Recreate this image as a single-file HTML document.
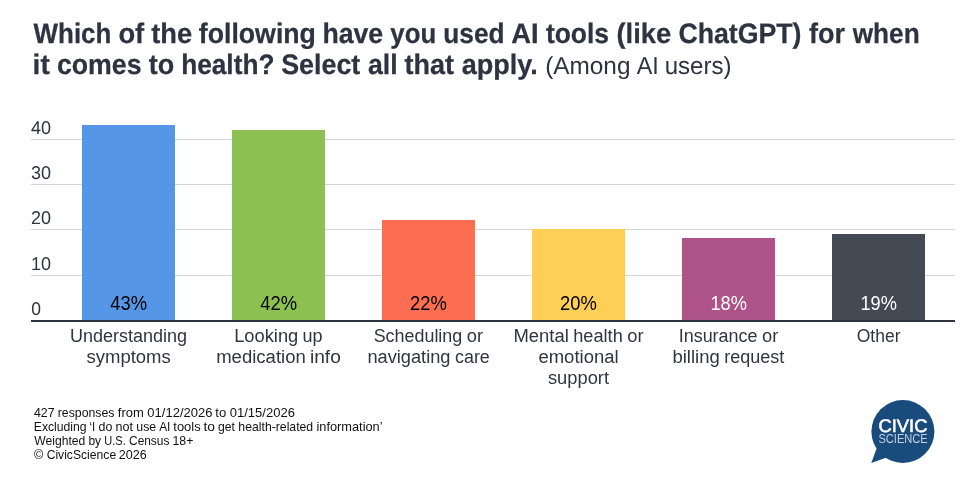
<!DOCTYPE html>
<html lang="en">
<head>
<meta charset="utf-8">
<title>Which of the following have you used AI tools (like ChatGPT) for when it comes to health?</title>
<style>
html,body{margin:0;padding:0;background:#ffffff;}
body{width:966px;height:482px;overflow:hidden;font-family:"Liberation Sans",sans-serif;}
svg{display:block;position:absolute;left:0;top:0;}
svg text{font-family:"Liberation Sans",sans-serif;}
</style>
</head>
<body>
<svg width="966" height="482" viewBox="0 0 966 482" role="img" aria-label="Bar chart: AI tools used for health, among AI users">
<rect x="0" y="0" width="966" height="482" fill="#ffffff"/>
<g fill="#d4d4d7">
<rect x="31" y="139" width="924" height="1"/>
<rect x="31" y="184" width="924" height="1"/>
<rect x="31" y="229" width="924" height="1"/>
<rect x="31" y="275" width="924" height="1"/>
</g>
<rect x="82" y="125" width="93" height="195" fill="#5596e6"/>
<rect x="232" y="130" width="93" height="190" fill="#8cc152"/>
<rect x="382" y="220" width="93" height="100" fill="#fc6e51"/>
<rect x="532" y="229" width="93" height="91" fill="#ffce54"/>
<rect x="682" y="238" width="93" height="82" fill="#ad5389"/>
<rect x="832" y="234" width="93" height="86" fill="#434a54"/>
<rect x="31" y="320" width="924" height="2" fill="#2d3340"/>
<g fill="#194b7d"><circle cx="902.9" cy="431.5" r="31.5"/><path d="M876.6 448.5 L871.3 463 L886.5 457.5 Z"/></g>
<text id="t1" y="42.6" font-size="28.15" fill="#2d3340" font-weight="700" stroke="#2d3340" stroke-width="0.25" text-rendering="geometricPrecision"><tspan x="33.59" textLength="77.81" lengthAdjust="spacingAndGlyphs">Which</tspan> <tspan x="118.38" textLength="25.79" lengthAdjust="spacingAndGlyphs">of</tspan> <tspan x="151.25" textLength="40.93" lengthAdjust="spacingAndGlyphs">the</tspan> <tspan x="198.81" textLength="117.12" lengthAdjust="spacingAndGlyphs">following</tspan> <tspan x="322.45" textLength="60.75" lengthAdjust="spacingAndGlyphs">have</tspan> <tspan x="390.35" textLength="45.88" lengthAdjust="spacingAndGlyphs">you</tspan> <tspan x="443.3" textLength="61.22" lengthAdjust="spacingAndGlyphs">used</tspan> <tspan x="511.18" textLength="27.34" lengthAdjust="spacingAndGlyphs">AI</tspan> <tspan x="545.9" textLength="63.14" lengthAdjust="spacingAndGlyphs">tools</tspan> <tspan x="616.48" textLength="54.76" lengthAdjust="spacingAndGlyphs">(like</tspan> <tspan x="678.38" textLength="123.15" lengthAdjust="spacingAndGlyphs">ChatGPT)</tspan> <tspan x="808.94" textLength="35.99" lengthAdjust="spacingAndGlyphs">for</tspan> <tspan x="852.76" textLength="66.91" lengthAdjust="spacingAndGlyphs">when</tspan></text>
<text id="t2" y="73.6" font-size="28.15" fill="#2d3340" font-weight="700" stroke="#2d3340" stroke-width="0.25" text-rendering="geometricPrecision"><tspan x="32.6" textLength="17.2" lengthAdjust="spacingAndGlyphs">it</tspan> <tspan x="56.93" textLength="84.57" lengthAdjust="spacingAndGlyphs">comes</tspan> <tspan x="148.64" textLength="25.52" lengthAdjust="spacingAndGlyphs">to</tspan> <tspan x="181.14" textLength="93.34" lengthAdjust="spacingAndGlyphs">health?</tspan> <tspan x="281.2" textLength="79.12" lengthAdjust="spacingAndGlyphs">Select</tspan> <tspan x="367.96" textLength="29.65" lengthAdjust="spacingAndGlyphs">all</tspan> <tspan x="404.55" textLength="49.58" lengthAdjust="spacingAndGlyphs">that</tspan> <tspan x="461.74" textLength="76.14" lengthAdjust="spacingAndGlyphs">apply.</tspan></text>
<text id="t3" y="73.6" font-size="24.5" fill="#2d3340" text-rendering="geometricPrecision"><tspan x="545.16" textLength="85.28" lengthAdjust="spacingAndGlyphs">(Among</tspan> <tspan x="636.67" textLength="22.04" lengthAdjust="spacingAndGlyphs">AI</tspan> <tspan x="664.67" textLength="66.77" lengthAdjust="spacingAndGlyphs">users)</tspan></text>
<text id="y40" y="134" font-size="18.5" fill="#2f3542" text-rendering="geometricPrecision"><tspan x="30.91" textLength="20.05" lengthAdjust="spacingAndGlyphs">40</tspan></text>
<text id="y30" y="179" font-size="18.5" fill="#2f3542" text-rendering="geometricPrecision"><tspan x="30.91" textLength="20.05" lengthAdjust="spacingAndGlyphs">30</tspan></text>
<text id="y20" y="224" font-size="18.5" fill="#2f3542" text-rendering="geometricPrecision"><tspan x="30.92" textLength="20.04" lengthAdjust="spacingAndGlyphs">20</tspan></text>
<text id="y10" y="270" font-size="18.5" fill="#2f3542" text-rendering="geometricPrecision"><tspan x="30.94" textLength="20.02" lengthAdjust="spacingAndGlyphs">10</tspan></text>
<text id="y0" y="315" font-size="18.5" fill="#2f3542" text-rendering="geometricPrecision"><tspan x="31.18" textLength="9.72" lengthAdjust="spacingAndGlyphs">0</tspan></text>
<text id="v0" y="309.9" font-size="19.7" fill="#000000"><tspan x="110.33" textLength="36.83" lengthAdjust="spacingAndGlyphs">43%</tspan></text>
<text id="c0_0" y="342.1" font-size="18" fill="#2f3542"><tspan x="69.95" textLength="117.09" lengthAdjust="spacingAndGlyphs">Understanding</tspan></text>
<text id="c0_1" y="362.9" font-size="18" fill="#2f3542"><tspan x="86.48" textLength="84.3" lengthAdjust="spacingAndGlyphs">symptoms</tspan></text>
<text id="v1" y="309.9" font-size="19.7" fill="#000000"><tspan x="260.33" textLength="36.83" lengthAdjust="spacingAndGlyphs">42%</tspan></text>
<text id="c1_0" y="342.1" font-size="18" fill="#2f3542"><tspan x="234.17" textLength="64.11" lengthAdjust="spacingAndGlyphs">Looking</tspan> <tspan x="302.52" textLength="20.03" lengthAdjust="spacingAndGlyphs">up</tspan></text>
<text id="c1_1" y="362.9" font-size="18" fill="#2f3542"><tspan x="216.16" textLength="89.62" lengthAdjust="spacingAndGlyphs">medication</tspan> <tspan x="309.94" textLength="30.91" lengthAdjust="spacingAndGlyphs">info</tspan></text>
<text id="v2" y="309.9" font-size="19.7" fill="#000000"><tspan x="410.11" textLength="36.8" lengthAdjust="spacingAndGlyphs">22%</tspan></text>
<text id="c2_0" y="342.1" font-size="18" fill="#2f3542"><tspan x="373.7" textLength="88.57" lengthAdjust="spacingAndGlyphs">Scheduling</tspan> <tspan x="466.78" textLength="16.28" lengthAdjust="spacingAndGlyphs">or</tspan></text>
<text id="c2_1" y="362.9" font-size="18" fill="#2f3542"><tspan x="367.42" textLength="83.11" lengthAdjust="spacingAndGlyphs">navigating</tspan> <tspan x="455.04" textLength="34.75" lengthAdjust="spacingAndGlyphs">care</tspan></text>
<text id="v3" y="309.9" font-size="19.7" fill="#000000"><tspan x="560.11" textLength="36.8" lengthAdjust="spacingAndGlyphs">20%</tspan></text>
<text id="c3_0" y="342.1" font-size="18" fill="#2f3542"><tspan x="513.4" textLength="55.35" lengthAdjust="spacingAndGlyphs">Mental</tspan> <tspan x="573.22" textLength="49.57" lengthAdjust="spacingAndGlyphs">health</tspan> <tspan x="627.29" textLength="16.28" lengthAdjust="spacingAndGlyphs">or</tspan></text>
<text id="c3_1" y="362.9" font-size="18" fill="#2f3542"><tspan x="538.46" textLength="80.1" lengthAdjust="spacingAndGlyphs">emotional</tspan></text>
<text id="c3_2" y="383.7" font-size="18" fill="#2f3542"><tspan x="547.97" textLength="61.06" lengthAdjust="spacingAndGlyphs">support</tspan></text>
<text id="v4" y="309.9" font-size="19.7" fill="#ffffff"><tspan x="710.4" textLength="36.5" lengthAdjust="spacingAndGlyphs">18%</tspan></text>
<text id="c4_0" y="342.1" font-size="18" fill="#2f3542"><tspan x="678.71" textLength="78.8" lengthAdjust="spacingAndGlyphs">Insurance</tspan> <tspan x="762.02" textLength="16.28" lengthAdjust="spacingAndGlyphs">or</tspan></text>
<text id="c4_1" y="362.9" font-size="18" fill="#2f3542"><tspan x="672.42" textLength="47.35" lengthAdjust="spacingAndGlyphs">billing</tspan> <tspan x="724.25" textLength="60.05" lengthAdjust="spacingAndGlyphs">request</tspan></text>
<text id="v5" y="309.9" font-size="19.7" fill="#ffffff"><tspan x="860.4" textLength="36.5" lengthAdjust="spacingAndGlyphs">19%</tspan></text>
<text id="c5_0" y="342.1" font-size="18" fill="#2f3542"><tspan x="856.76" textLength="43.75" lengthAdjust="spacingAndGlyphs">Other</tspan></text>
<text id="f0" y="417" font-size="12.2" fill="#111111"><tspan x="34" textLength="20.6" lengthAdjust="spacingAndGlyphs">427</tspan> <tspan x="57.73" textLength="56.75" lengthAdjust="spacingAndGlyphs">responses</tspan> <tspan x="117.85" textLength="25.93" lengthAdjust="spacingAndGlyphs">from</tspan> <tspan x="147.35" textLength="65.07" lengthAdjust="spacingAndGlyphs">01/12/2026</tspan> <tspan x="215.25" textLength="10.97" lengthAdjust="spacingAndGlyphs">to</tspan> <tspan x="229.8" textLength="65.07" lengthAdjust="spacingAndGlyphs">01/15/2026</tspan></text>
<text id="f1" y="431" font-size="12.2" fill="#111111"><tspan x="33.75" textLength="52.86" lengthAdjust="spacingAndGlyphs">Excluding</tspan> <tspan x="89.54" textLength="5.74" lengthAdjust="spacingAndGlyphs">‘I</tspan> <tspan x="98.47" textLength="13.83" lengthAdjust="spacingAndGlyphs">do</tspan> <tspan x="115.41" textLength="17.48" lengthAdjust="spacingAndGlyphs">not</tspan> <tspan x="136.27" textLength="19.93" lengthAdjust="spacingAndGlyphs">use</tspan> <tspan x="159.16" textLength="11.23" lengthAdjust="spacingAndGlyphs">AI</tspan> <tspan x="173.3" textLength="27.3" lengthAdjust="spacingAndGlyphs">tools</tspan> <tspan x="203.44" textLength="11.51" lengthAdjust="spacingAndGlyphs">to</tspan> <tspan x="218.02" textLength="16.95" lengthAdjust="spacingAndGlyphs">get</tspan> <tspan x="238.36" textLength="74.79" lengthAdjust="spacingAndGlyphs">health-related</tspan> <tspan x="316.48" textLength="66.08" lengthAdjust="spacingAndGlyphs">information’</tspan></text>
<text id="f2" y="445" font-size="12.2" fill="#111111"><tspan x="34.25" textLength="51.03" lengthAdjust="spacingAndGlyphs">Weighted</tspan> <tspan x="88.44" textLength="12.61" lengthAdjust="spacingAndGlyphs">by</tspan> <tspan x="104.28" textLength="21.5" lengthAdjust="spacingAndGlyphs">U.S.</tspan> <tspan x="129.05" textLength="40.3" lengthAdjust="spacingAndGlyphs">Census</tspan> <tspan x="172.49" textLength="20.96" lengthAdjust="spacingAndGlyphs">18+</tspan></text>
<text id="f3" y="459" font-size="12.2" fill="#111111"><tspan x="33.99" textLength="9.25" lengthAdjust="spacingAndGlyphs">©</tspan> <tspan x="46.63" textLength="69.51" lengthAdjust="spacingAndGlyphs">CivicScience</tspan> <tspan x="118.76" textLength="27.92" lengthAdjust="spacingAndGlyphs">2026</tspan></text>
<text id="l1" y="431.5" font-size="18.2" fill="#ffffff" stroke="#ffffff" stroke-width="0.55" text-rendering="geometricPrecision"><tspan x="878.44" textLength="49.03" lengthAdjust="spacingAndGlyphs">CIVIC</tspan></text>
<text id="l2" y="443.2" font-size="12.2" fill="#c3d0e0"><tspan x="878.45" textLength="49.33" lengthAdjust="spacingAndGlyphs">SCIENCE</tspan></text>
</svg>
</body>
</html>
